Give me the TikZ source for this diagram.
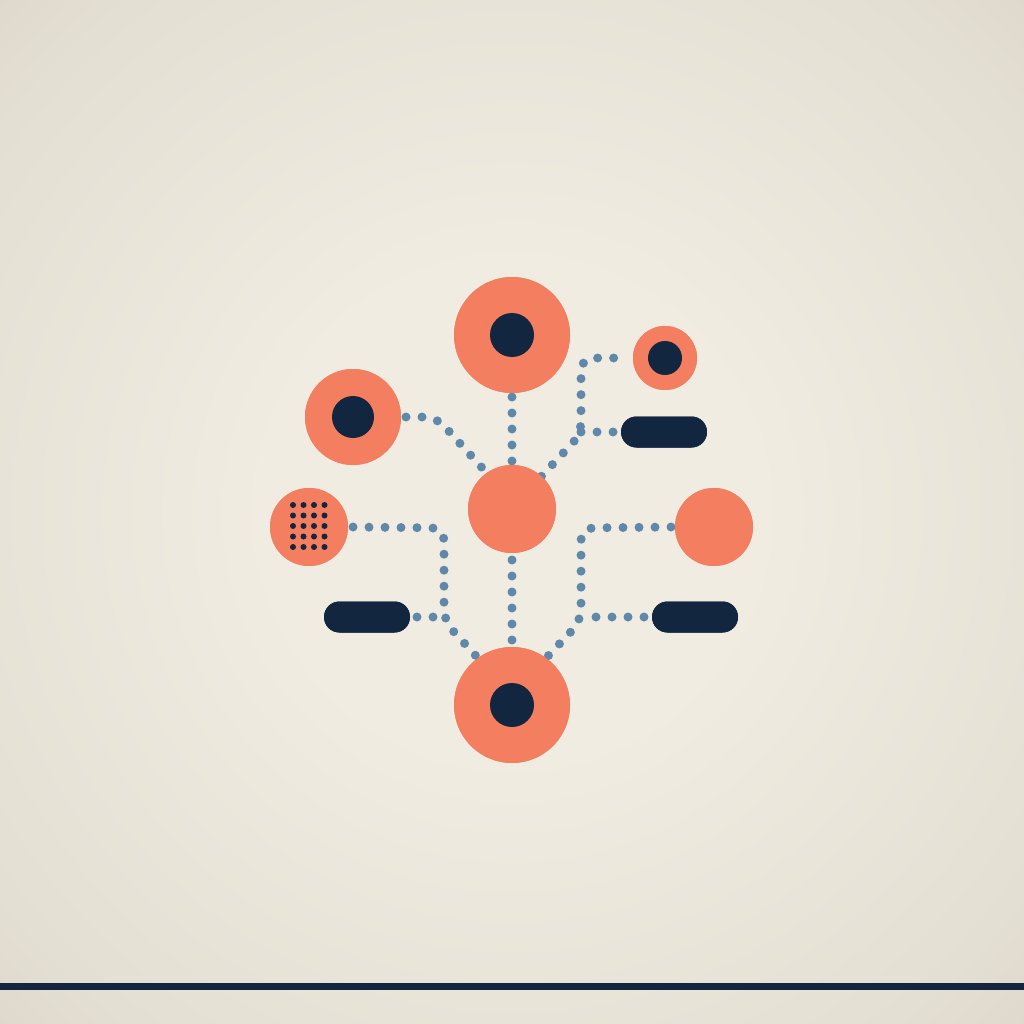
\documentclass[tikz,border=0pt]{standalone}
\usetikzlibrary{calc}
\definecolor{coral}{HTML}{F47E60}
\definecolor{navy}{HTML}{13263F}
\definecolor{dotblue}{HTML}{6088AB}
\definecolor{bgin}{HTML}{F0ECE1}
\definecolor{bgmid}{HTML}{E4DFD3}
\definecolor{bgout}{HTML}{D3CBBD}
\pgfdeclareradialshading{bgshade}{\pgfpoint{0bp}{0bp}}{color(0bp)=(bgin); color(12bp)=(bgin); color(31bp)=(bgmid); color(46bp)=(bgout); color(71bp)=(bgout)}
\tikzset{
  disc/.style={circle, fill=coral, inner sep=0pt, outer sep=0pt, minimum size=#1},
  core/.style={circle, fill=navy, inner sep=0pt, outer sep=0pt, minimum size=#1},
  pill/.style={rectangle, rounded corners=15.5pt, fill=navy, inner sep=0pt, outer sep=0pt, minimum width=86pt, minimum height=31pt},
  dots/.style={draw=dotblue, line width=9pt, line cap=round, dash pattern=on 0pt off 16pt, rounded corners=12pt},
}
\begin{document}
\begin{tikzpicture}[x=1pt,y=-1pt]
\useasboundingbox (0,0) rectangle (1024,1024);
\shade[shading=bgshade] (0,0) rectangle (1024,1024);
\fill[navy] (0,983) rectangle (1024,990);

% node positions
\coordinate (Tp) at (512,335);
\coordinate (Lp) at (353,417);
\coordinate (Cp) at (512,509);
\coordinate (Gp) at (309,527);
\coordinate (SCp) at (665,358);
\coordinate (TPp) at (664,432);
\coordinate (Rp) at (714,527);
\coordinate (RPp) at (695,617);
\coordinate (LPp) at (367,617);
\coordinate (Bp) at (512,705);

% anchor nodes for connectors (redrawn on top afterwards)
\path node[disc=116pt] (T) at (Tp) {}
      node[disc=96pt] (L) at (Lp) {}
      node[disc=88pt] (C) at (Cp) {}
      node[disc=78pt] (G) at (Gp) {}
      node[disc=64pt] (SC) at (SCp) {}
      node[disc=78pt] (R) at (Rp) {}
      node[disc=116pt] (B) at (Bp) {};
\node[pill] (TP) at (TPp) {};
\node[pill] (RP) at (RPp) {};
\node[pill] (LP) at (LPp) {};

% connectors
\draw[dots] ($(T.south)+(0,4)$) -- (C.north);
\draw[dots] ($(L.east)+(5,0)$) -- (436,417) -- (C.125);
\draw[dots] (C.48) -- (581,434) -- (581,358) -- ($(SC.west)+(-6,0)$);
\draw[dots] (581,432) -- ($(TP.west)+(-8,0)$);
\draw[dots] ($(G.east)+(5,0)$) -- (444,528) -- (444,621) -- (B.126);
\draw[dots] ($(LP.east)+(7,0)$) -- (444,617);
\draw[dots] ($(C.south)+(0,7)$) -- (B.north);
\draw[dots] ($(R.west)+(-4,0)$) -- (581,528) -- (581,621) -- (B.54);
\draw[dots] ($(RP.west)+(-8,0)$) -- (581,617);

% circles on top
\node[disc=116pt] (T2) at (Tp) {};
\node[core=44pt] (Tc) at (Tp) {};
\node[disc=96pt] (L2) at (Lp) {};
\node[core=42pt] (Lc) at (Lp) {};
\node[disc=88pt] (C2) at (Cp) {};
\node[disc=78pt] (G2) at (Gp) {};
\node[disc=64pt] (SC2) at (SCp) {};
\node[core=34pt] (SCc) at (SCp) {};
\node[disc=78pt] (R2) at (Rp) {};
\node[disc=116pt] (B2) at (Bp) {};
\node[core=44pt] (Bc) at (Bp) {};
\node[pill] (TP2) at (TPp) {};
\node[pill] (RP2) at (RPp) {};
\node[pill] (LP2) at (LPp) {};

% dot grid
\foreach \gx in {293,303.5,314,324.5}
  \foreach \gy in {505,515.5,526,536.5,547}
    \fill[navy] (\gx,\gy) circle (3pt);
\end{tikzpicture}
\end{document}
